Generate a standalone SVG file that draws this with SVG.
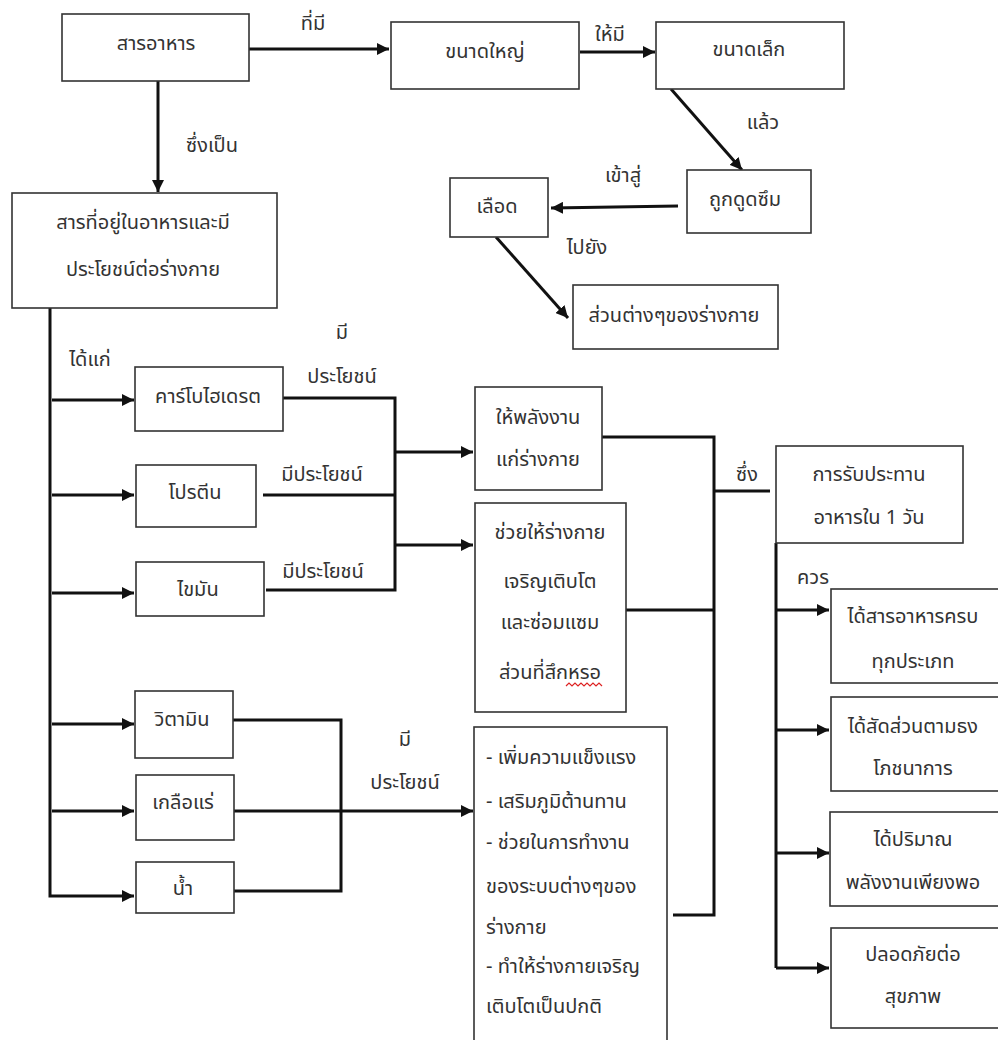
<svg xmlns="http://www.w3.org/2000/svg" width="998" height="1040" viewBox="0 0 998 1040">
<defs>
<style>
.box{fill:#fff;stroke:#333;stroke-width:1.6}
.t{font-family:"Noto Sans Thai","Noto Sans","DejaVu Sans",sans-serif;font-size:20px;fill:#333;text-anchor:middle;dominant-baseline:central}
.tl{text-anchor:start}
.c{fill:none;stroke:#111;stroke-width:3}
</style>
<marker id="ah" markerUnits="userSpaceOnUse" markerWidth="14" markerHeight="12" refX="12" refY="6" orient="auto">
<path d="M0,0 L12,6 L0,12 Z" fill="#111"/>
</marker>
</defs>
<rect width="998" height="1040" fill="#fff"/>

<g id="connectors">
<line class="c" x1="249" y1="49" x2="389" y2="49" marker-end="url(#ah)"/>
<line class="c" x1="158" y1="81" x2="158" y2="192" marker-end="url(#ah)"/>
<line class="c" x1="580" y1="52" x2="655" y2="52" marker-end="url(#ah)"/>
<line class="c" x1="671" y1="89" x2="742" y2="170" marker-end="url(#ah)"/>
<line class="c" x1="678" y1="206" x2="551" y2="208" marker-end="url(#ah)"/>
<line class="c" x1="496" y1="237" x2="568" y2="318" marker-end="url(#ah)"/>
<polyline class="c" points="50,308 50,896 134,896" marker-end="url(#ah)"/>
<line class="c" x1="52" y1="400" x2="134" y2="400" marker-end="url(#ah)"/>
<line class="c" x1="52" y1="495" x2="134" y2="495" marker-end="url(#ah)"/>
<line class="c" x1="52" y1="593" x2="134" y2="593" marker-end="url(#ah)"/>
<line class="c" x1="52" y1="724" x2="134" y2="724" marker-end="url(#ah)"/>
<line class="c" x1="52" y1="811" x2="134" y2="811" marker-end="url(#ah)"/>
<polyline class="c" points="283,398 395,398 395,590 266,590"/>
<line class="c" x1="263" y1="495" x2="395" y2="495"/>
<line class="c" x1="395" y1="452" x2="473" y2="452" marker-end="url(#ah)"/>
<line class="c" x1="395" y1="545" x2="473" y2="545" marker-end="url(#ah)"/>
<polyline class="c" points="233,720 341,720 341,891 234,891"/>
<line class="c" x1="234" y1="811" x2="473" y2="811" marker-end="url(#ah)"/>
<polyline class="c" points="602,437 714,437 714,915 673,915"/>
<line class="c" x1="626" y1="610" x2="714" y2="610"/>
<line class="c" x1="714" y1="491" x2="770" y2="491"/>
<polyline class="c" points="776,543 776,968"/>
<line class="c" x1="776" y1="610" x2="829" y2="610" marker-end="url(#ah)"/>
<line class="c" x1="776" y1="730" x2="829" y2="730" marker-end="url(#ah)"/>
<line class="c" x1="776" y1="853" x2="829" y2="853" marker-end="url(#ah)"/>
<line class="c" x1="776" y1="968" x2="829" y2="968" marker-end="url(#ah)"/>
<text class="t" x="313" y="24">ที่มี</text>
<text class="t" x="212" y="146">ซึ่งเป็น</text>
<text class="t" x="610" y="35">ให้มี</text>
<text class="t" x="763" y="123">แล้ว</text>
<text class="t" x="623" y="176">เข้าสู่</text>
<text class="t" x="587" y="248">ไปยัง</text>
<text class="t" x="90" y="360">ได้แก่</text>
<text class="t" x="342" y="333">มี</text>
<text class="t" x="342" y="377">ประโยชน์</text>
<text class="t" x="322" y="475">มีประโยชน์</text>
<text class="t" x="323" y="572">มีประโยชน์</text>
<text class="t" x="405" y="740">มี</text>
<text class="t" x="405" y="783">ประโยชน์</text>
<text class="t" x="747" y="475">ซึ่ง</text>
<text class="t" x="813" y="578">ควร</text>
</g>

<g id="n-food"><rect class="box" x="62" y="14" width="187" height="67"/><text class="t" x="156" y="44">สารอาหาร</text></g>
<g id="n-large"><rect class="box" x="391" y="22" width="188" height="67"/><text class="t" x="485" y="52">ขนาดใหญ่</text></g>
<g id="n-small"><rect class="box" x="656" y="22" width="188" height="67"/><text class="t" x="749" y="50">ขนาดเล็ก</text></g>
<g id="n-absorb"><rect class="box" x="687" y="170" width="124" height="63"/><text class="t" x="745" y="200">ถูกดูดซึม</text></g>
<g id="n-blood"><rect class="box" x="450" y="178" width="98" height="59"/><text class="t" x="497" y="207">เลือด</text></g>
<g id="n-parts"><rect class="box" x="573" y="285" width="205" height="64"/><text class="t" x="674" y="316">ส่วนต่างๆของร่างกาย</text></g>
<g id="n-def"><rect class="box" x="12" y="193" width="265" height="115"/><text class="t" x="143" y="223">สารที่อยู่ในอาหารและมี</text><text class="t" x="143" y="270">ประโยชน์ต่อร่างกาย</text></g>
<g id="n-carb"><rect class="box" x="135" y="367" width="148" height="64"/><text class="t" x="208" y="397">คาร์โบไฮเดรต</text></g>
<g id="n-protein"><rect class="box" x="136" y="465" width="120" height="62"/><text class="t" x="195" y="493">โปรตีน</text></g>
<g id="n-fat"><rect class="box" x="136" y="562" width="128" height="54"/><text class="t" x="198" y="590">ไขมัน</text></g>
<g id="n-vit"><rect class="box" x="135" y="691" width="98" height="67"/><text class="t" x="182" y="720">วิตามิน</text></g>
<g id="n-min"><rect class="box" x="136" y="775" width="98" height="65"/><text class="t" x="183" y="803">เกลือแร่</text></g>
<g id="n-water"><rect class="box" x="136" y="862" width="98" height="51"/><text class="t" x="183" y="889">น้ำ</text></g>
<g id="n-energy"><rect class="box" x="475" y="387" width="127" height="103"/><text class="t" x="538" y="418">ให้พลังงาน</text><text class="t" x="538" y="460">แก่ร่างกาย</text></g>
<g id="n-grow"><rect class="box" x="475" y="503" width="151" height="209"/><text class="t" x="550" y="533">ช่วยให้ร่างกาย</text><text class="t" x="550" y="582">เจริญเติบโต</text><text class="t" x="550" y="623">และซ่อมแซม</text><text class="t" x="550" y="673">ส่วนที่สึกหรอ</text><path d="M566,686 l3,-3 l3,3 l3,-3 l3,3 l3,-3 l3,3 l3,-3 l3,3 l3,-3 l3,3 l3,-3 l3,3" fill="none" stroke="#d22" stroke-width="1.2"/></g>
<g id="n-benefit"><rect class="box" x="474" y="727" width="193" height="330"/>
<text class="t tl" x="486" y="758">- เพิ่มความแข็งแรง</text>
<text class="t tl" x="486" y="802">- เสริมภูมิต้านทาน</text>
<text class="t tl" x="486" y="843">- ช่วยในการทำงาน</text>
<text class="t tl" x="486" y="887">ของระบบต่างๆของ</text>
<text class="t tl" x="486" y="928">ร่างกาย</text>
<text class="t tl" x="486" y="967">- ทำให้ร่างกายเจริญ</text>
<text class="t tl" x="486" y="1007">เติบโตเป็นปกติ</text></g>
<g id="n-daily"><rect class="box" x="776" y="446" width="187" height="97"/><text class="t" x="869" y="475">การรับประทาน</text><text class="t" x="869" y="518">อาหารใน 1 วัน</text></g>
<g id="n-all"><rect class="box" x="831" y="589" width="200" height="94"/><text class="t" x="913" y="617">ได้สารอาหารครบ</text><text class="t" x="913" y="662">ทุกประเภท</text></g>
<g id="n-prop"><rect class="box" x="831" y="697" width="200" height="94"/><text class="t" x="913" y="727">ได้สัดส่วนตามธง</text><text class="t" x="913" y="769">โภชนาการ</text></g>
<g id="n-amount"><rect class="box" x="830" y="812" width="200" height="94"/><text class="t" x="913" y="840">ได้ปริมาณ</text><text class="t" x="913" y="883">พลังงานเพียงพอ</text></g>
<g id="n-safe"><rect class="box" x="831" y="928" width="200" height="100"/><text class="t" x="913" y="955">ปลอดภัยต่อ</text><text class="t" x="913" y="997">สุขภาพ</text></g>
</svg>
